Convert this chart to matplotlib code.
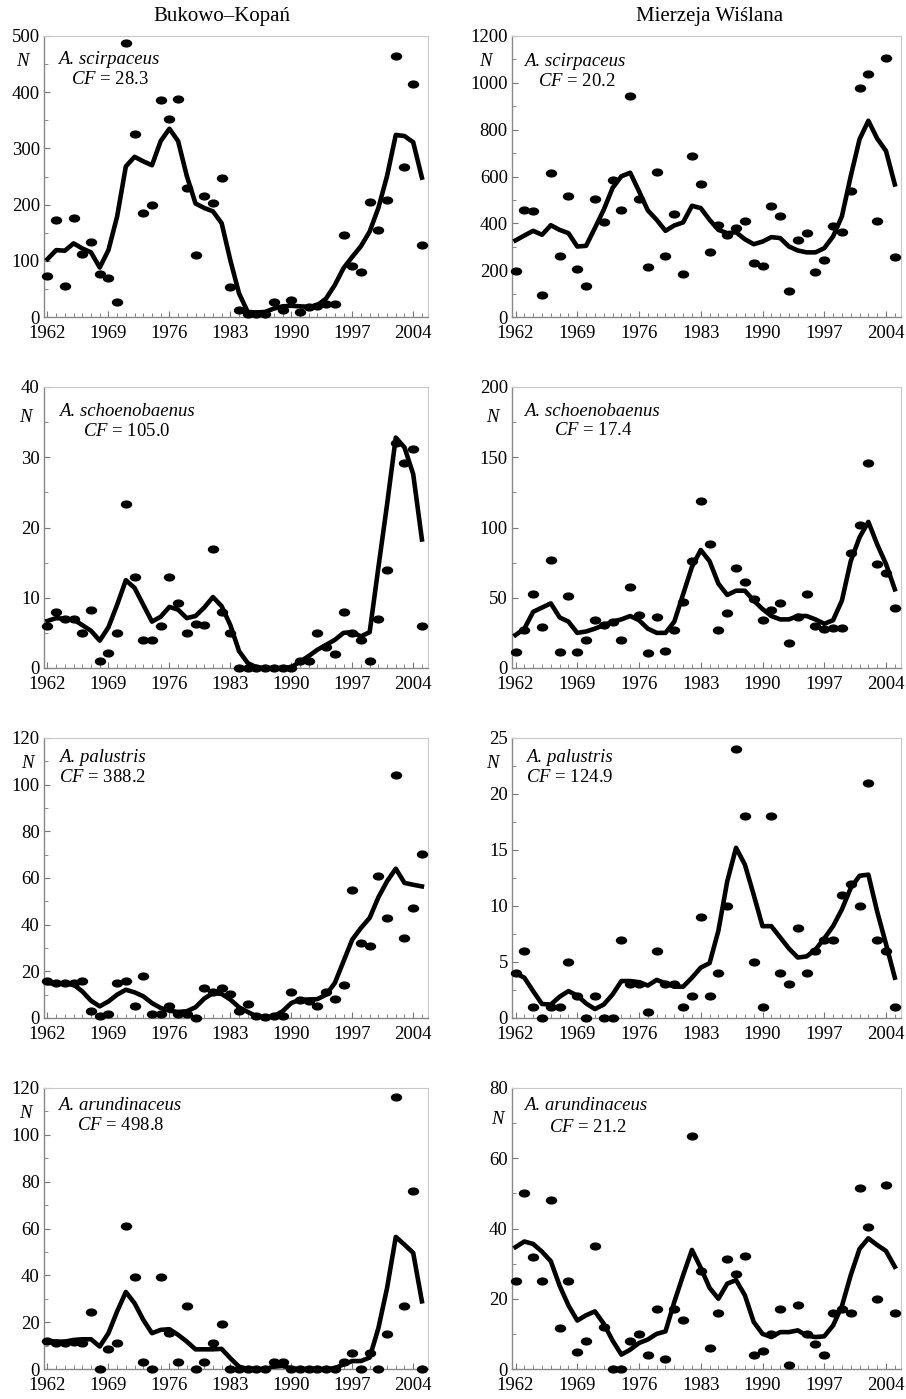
import numpy as np
import matplotlib
matplotlib.use('Agg')
import matplotlib.pyplot as plt
from matplotlib.path import Path
from matplotlib.ticker import MultipleLocator
from matplotlib.transforms import Affine2D

plt.rcParams['font.family'] = ['Liberation Serif', 'DejaVu Serif']
plt.rcParams['mathtext.fontset'] = 'custom'
plt.rcParams['mathtext.it'] = 'Liberation Serif:italic'
plt.rcParams['mathtext.rm'] = 'Liberation Serif'

# --- data, years 1962..2005 ---
years = list(range(1962, 2006))
sites = ["Bukowo\u2013Kopa\u0144", "Mierzeja Wi\u015blana"]

# A. scirpaceus
bk_scirp_pts = [73, 172, 55, 177, 112, 134, 76, 70, 27, 487, 325, 185, 199, 387, 352, 388, 230, 110, 215, 203,
                248, 54, 12, 6, 6, 6, 27, 13, 31, 9, 17, 19, 23, 24, 146, 90, 80, 204, 155, 208, 464, 267, 415, 129]
bk_scirp_line = [103, 119, 118, 131, 122, 115, 88, 119, 179, 268, 285, 277, 270, 313, 335, 313, 251, 202, 194, 188,
                 167, 101, 42, 9, 8, 9, 15, 19, 20, 19, 18, 21, 33, 57, 87, 107, 126, 152, 194, 251, 324, 322, 311, 248]
mw_scirp_pts = [195, 458, 454, 96, 613, 261, 518, 206, 132, 506, 407, 587, 455, 945, 504, 212, 620, 259, 441, 183,
                687, 566, 276, 394, 351, 380, 411, 232, 218, 473, 430, 112, 327, 358, 193, 243, 387, 362, 537, 977,
                1037, 412, 1107, 258]
mw_scirp_line = [327, 348, 368, 351, 392, 372, 358, 301, 304, 380, 458, 551, 601, 616, 537, 455, 415, 368, 391, 404,
                 475, 465, 415, 372, 358, 362, 332, 311, 322, 341, 337, 301, 284, 276, 276, 294, 344, 430, 601, 759,
                 838, 762, 709, 566]

# A. schoenobaenus
bk_schoen_pts = [6, 8, 7, 7, 5, 8.3, 1, 2.2, 5, 23.4, 13, 4, 4, 6, 13, 9.2, 5, 6.2, 6.1, 17,
                 8, 5, 0, 0, 0, 0, 0, 0, 0, 1, 1, 5, 3, 2, 8, 5, 4, 1, 7, 14, 32, 29.2, 31.2, 6]
bk_schoen_line = [6.7, 7.1, 7.0, 6.9, 6.1, 5.3, 3.9, 5.8, 9.0, 12.5, 11.4, 9.0, 6.6, 7.3, 8.7, 8.3, 7.1, 7.4, 8.6, 10.1,
                  8.8, 6.1, 2.4, 0.7, 0.1, 0, 0, 0, 0.1, 0.9, 1.7, 2.6, 3.3, 4.0, 5.0, 5.1, 4.5, 5.1, 14.3, 23.3,
                  32.8, 31.4, 27.6, 18.3]
mw_schoen_pts = [11.5, 27, 53, 29, 77, 11.5, 51, 11.5, 20, 34, 30.5, 33, 20, 58, 38, 10.7, 36.5, 12, 27, 47,
                 76, 119, 88, 27, 39, 71, 61, 49, 34, 41, 46, 17.7, 36, 53, 30, 27.5, 28.6, 28.6, 82, 102,
                 145.6, 74, 67.5, 43]
mw_schoen_line = [23.4, 28, 40, 43, 46, 36, 33, 25, 26, 28, 30.5, 33, 34.6, 37, 34, 28, 25, 25, 33, 52.5,
                  72, 84, 76, 60, 52, 55, 55, 48, 42, 37, 34.6, 34.6, 37, 37, 34.6, 31.5, 34, 48, 76, 93,
                  104, 88, 74, 56]

# A. palustris
bk_palus_pts = [15.7, 15, 15, 15, 15.7, 2.9, 1, 1.9, 14.9, 16, 5, 18, 1.9, 1.9, 5, 1.9, 1.9, 0, 13, 11,
                12.9, 10.3, 3.1, 6, 0.7, 0.3, 0.7, 1, 11, 7.9, 7.1, 5, 11, 8.1, 14.3, 55, 32, 31, 61, 43,
                104.3, 34.3, 47, 70.3]
bk_palus_line = [15, 14.6, 14.6, 14.3, 11.4, 7.4, 5, 7.1, 10, 12.1, 11, 9.3, 6.4, 4.3, 3.1, 2.6, 2.9, 4.6, 8.3, 10.7,
                 10.3, 7.9, 4.6, 2.6, 0.7, 0.3, 0.7, 2.9, 6.4, 7.9, 7.9, 8.1, 10, 15, 24.3, 33.6, 38.6, 42.9, 51.7, 58.6,
                 64, 57.9, 57.1, 56.4]
mw_palus_pts = [4, 6, 1, 0, 1, 1, 5, 2, 0, 2, 0, 0, 7, 3, 3, 0.5, 6, 3, 3, 1,
                2, 9, 2, 4, 10, 24, 18, 5, 1, 18, 4, 3, 8, 4, 6, 7, 7, 11, 12, 10, 21, 7, 6, 1]
mw_palus_line = [4.0, 3.6, 2.4, 1.25, 1.2, 1.9, 2.4, 2.0, 1.3, 0.8, 1.2, 2.1, 3.3, 3.3, 3.2, 2.9, 3.4, 3.1, 2.8, 2.8,
                 3.6, 4.5, 4.9, 7.8, 12.2, 15.2, 13.7, 11.0, 8.2, 8.2, 7.2, 6.2, 5.4, 5.5, 6.1, 7.1, 8.2, 9.7, 11.6, 12.7,
                 12.8, 9.5, 6.6, 3.6]

# A. arundinaceus
bk_arund_pts = [12, 11.3, 11.3, 11.7, 11.3, 24.3, 0, 8.4, 11.3, 60.9, 39.3, 2.9, 0, 39.3, 15.3, 2.9, 27.1, 0, 2.9, 11,
                19.1, 0, 0, 0, 0, 0, 2.9, 2.9, 0, 0, 0, 0, 0, 0, 2.9, 7, 0, 7, 0, 15.1, 116.3, 27.1, 75.9, 0]
bk_arund_line = [12, 11.7, 11.7, 12.4, 12.7, 12.7, 9.6, 15.3, 24.6, 32.9, 28.1, 21, 15.3, 16.7, 17, 14.6, 11.7, 8.4, 8.4,
                 8.4, 8.6, 4.6, 1, 0, 0, 0, 1, 1.3, 0.3, 0, 0, 0, 0, 0.3, 2, 3.4, 3.4, 4.9, 17.4, 34.6,
                 56.4, 53.1, 49.6, 28.9]
mw_arund_pts = [25, 50, 31.8, 25, 48, 11.7, 25, 4.8, 7.9, 35, 11.9, 0, 0, 7.9, 10, 4, 17, 2.9, 17, 14,
                66.3, 28, 6, 16, 31.2, 27, 32.2, 4, 5, 10, 17, 1, 18.1, 10, 7, 4, 16, 17.2, 16, 51.4,
                40.3, 20, 52.3, 16]
mw_arund_line = [34.7, 36.3, 35.6, 33.4, 30.7, 23.7, 18.1, 13.8, 15.3, 16.4, 12.9, 8.1, 4.1, 5.5, 7.4, 8.4, 10, 10.7,
                 19.1, 26.7, 33.9, 28.8, 23.1, 20, 24.3, 25.3, 21, 13.4, 10, 9.1, 10.5, 10.5, 11, 9.5, 9.1, 9.3, 12.4,
                 17.9, 26.7, 34.2, 37.2, 35.3, 33.6, 29.1]

species = ["A. scirpaceus", "A. schoenobaenus", "A. palustris", "A. arundinaceus"]
cf_values = [["28.3", "20.2"], ["105.0", "17.4"], ["388.2", "124.9"], ["498.8", "21.2"]]
y_max = [[500, 1200], [40, 200], [120, 25], [120, 80]]
y_step = [[100, 200], [10, 50], [20, 5], [20, 20]]

points = [[bk_scirp_pts, mw_scirp_pts], [bk_schoen_pts, mw_schoen_pts],
          [bk_palus_pts, mw_palus_pts], [bk_arund_pts, mw_arund_pts]]
smooth = [[bk_scirp_line, mw_scirp_line], [bk_schoen_line, mw_schoen_line],
          [bk_palus_line, mw_palus_line], [bk_arund_line, mw_arund_line]]

# --- layout in pixels of the 906x1399 image ---
W, H = 906, 1399
col_x = [(44, 428), (512, 901)]
row_y = [(36, 317), (387, 668), (738, 1018), (1088, 1369)]
# species label / CF label / N positions (x, y) in pixels, per row and column
species_xy = [[(58, 60), (524, 62)], [(59, 412), (524, 411)], [(59, 758), (526, 758)], [(58, 1106), (524, 1106)]]
cf_xy = [[(71, 80), (538, 82)], [(83, 432), (554, 431)], [(59, 778), (526, 778)], [(77, 1126), (549, 1127)]]
n_xy = [[(22, 62), (485, 62)], [(25, 417), (492, 417)], [(27, 763), (492, 764)], [(25, 1114), (497, 1119)]]

# slightly flattened dots, like the printed ones
DOT = Path.unit_circle().transformed(Affine2D().scale(1.0, 0.68))


def fig_text(fig, xy, s, **kw):
    """Put text at pixel coordinates (measured from the top left)"""
    fig.text(xy[0] / W, 1 - xy[1] / H, s, va='center', **kw)


def draw_panel(fig, r, c):
    left, right = col_x[c]
    top, bottom = row_y[r]
    ax = fig.add_axes([left / W, 1 - bottom / H, (right - left) / W, (bottom - top) / H])

    ax.plot(years, smooth[r][c], color='black', lw=3.3, solid_joinstyle='round', zorder=3)
    ax.plot(years, points[r][c], ls='none', marker=DOT, ms=7.2, color='black', clip_on=False, zorder=4)

    ax.set_xlim(1961.6, 2005.7)
    ax.set_ylim(0, y_max[r][c])
    ax.set_xticks(range(1962, 2005, 7))
    ax.xaxis.set_minor_locator(MultipleLocator(1))
    ax.set_yticks(np.arange(0, y_max[r][c] + 1e-9, y_step[r][c]))
    ax.yaxis.set_minor_locator(MultipleLocator(y_step[r][c] / 2))
    ax.tick_params(which='both', direction='in', color='#777777', labelsize=13.5)
    ax.tick_params(which='major', length=4)
    ax.tick_params(which='minor', length=3)
    ax.tick_params(axis='x', pad=6)
    ax.tick_params(axis='y', pad=3)

    for side in ['top', 'right']:
        ax.spines[side].set_color('#c8c8c8')
        ax.spines[side].set_linewidth(0.8)
    for side in ['left', 'bottom']:
        ax.spines[side].set_color('#888888')
        ax.spines[side].set_linewidth(1.0)

    fig_text(fig, species_xy[r][c], species[r], ha='left', fontsize=13.5, fontstyle='italic')
    fig_text(fig, cf_xy[r][c], r"$CF$ = " + cf_values[r][c], ha='left', fontsize=13.5)
    fig_text(fig, n_xy[r][c], "N", ha='center', fontsize=13.5, fontstyle='italic')
    return ax


fig = plt.figure(figsize=(W / 100, H / 100), dpi=100)
for r in range(4):
    for c in range(2):
        draw_panel(fig, r, c)

fig_text(fig, (222, 17), sites[0], ha='center', fontsize=15)
fig_text(fig, (710, 17), sites[1], ha='center', fontsize=15)

fig.savefig('out.png', dpi=100, facecolor='white')
